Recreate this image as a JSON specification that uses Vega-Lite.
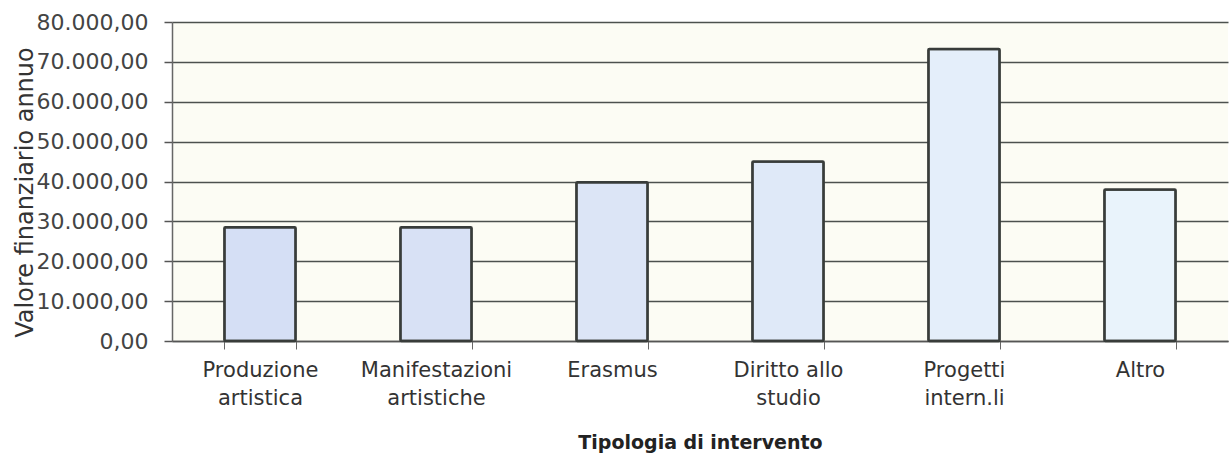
{
  "$schema": "https://vega.github.io/schema/vega-lite/v6.json",
  "autosize": {"type": "none"},
  "padding": {"left": 172, "top": 22, "right": 3, "bottom": 121},
  "width": 1056,
  "height": 319,
  "background": "#ffffff",
  "data": {
    "values": [
      {"tipologia": "Produzione artistica", "valore": 28500},
      {"tipologia": "Manifestazioni artistiche", "valore": 28500},
      {"tipologia": "Erasmus", "valore": 39800},
      {"tipologia": "Diritto allo studio", "valore": 45000},
      {"tipologia": "Progetti intern.li", "valore": 73200},
      {"tipologia": "Altro", "valore": 38000}
    ]
  },
  "mark": {"type": "bar", "stroke": "#383c3a", "strokeWidth": 2.5, "cornerRadius": 1},
  "encoding": {
    "x": {
      "field": "tipologia",
      "type": "nominal",
      "sort": null,
      "scale": {"paddingInner": 0.595, "paddingOuter": 0.2975},
      "axis": {
        "title": "Tipologia di intervento",
        "titleFont": "DejaVu Sans",
        "titleFontWeight": "bold",
        "titleFontSize": 19,
        "titleColor": "#222222",
        "titleBaseline": "alphabetic",
        "titleY": 107,
        "labelAngle": 0,
        "labelFont": "DejaVu Sans",
        "labelFontSize": 21,
        "labelColor": "#333333",
        "labelLineHeight": 28,
        "labelPadding": 10,
        "labelExpr": "datum.label == 'Diritto allo studio' ? ['Diritto allo', 'studio'] : split(datum.label, ' ')",
        "tickBand": "extent",
        "tickSize": 8,
        "tickColor": "#666666",
        "domainColor": "#555555",
        "domainWidth": 1.5
      }
    },
    "y": {
      "field": "valore",
      "type": "quantitative",
      "scale": {"domain": [0, 80000], "nice": false},
      "axis": {
        "title": "Valore finanziario annuo",
        "titleFont": "DejaVu Sans",
        "titleFontWeight": "normal",
        "titleFontSize": 24,
        "titleColor": "#333333",
        "titleBaseline": "alphabetic",
        "titleX": -140,
        "titleY": 170,
        "values": [0, 10000, 20000, 30000, 40000, 50000, 60000, 70000, 80000],
        "labelExpr": "datum.value == 0 ? '0,00' : format(datum.value / 1000, 'd') + '.000,00'",
        "labelFont": "DejaVu Sans",
        "labelFontSize": 22,
        "labelColor": "#444444",
        "labelPadding": 16,
        "tickSize": 8,
        "tickColor": "#555555",
        "tickWidth": 1.5,
        "domainColor": "#666666",
        "domainWidth": 1.5,
        "grid": true,
        "gridColor": "#4c514e",
        "gridWidth": 1.6
      }
    },
    "color": {
      "field": "tipologia",
      "type": "nominal",
      "sort": null,
      "scale": {
        "domain": ["Produzione artistica", "Manifestazioni artistiche", "Erasmus", "Diritto allo studio", "Progetti intern.li", "Altro"],
        "range": ["#d5dff5", "#d8e1f5", "#dce5f6", "#dfe9f8", "#e4eefa", "#e9f3fb"]
      },
      "legend": null
    }
  },
  "config": {
    "view": {"fill": "#fcfcf4", "stroke": null}
  }
}
